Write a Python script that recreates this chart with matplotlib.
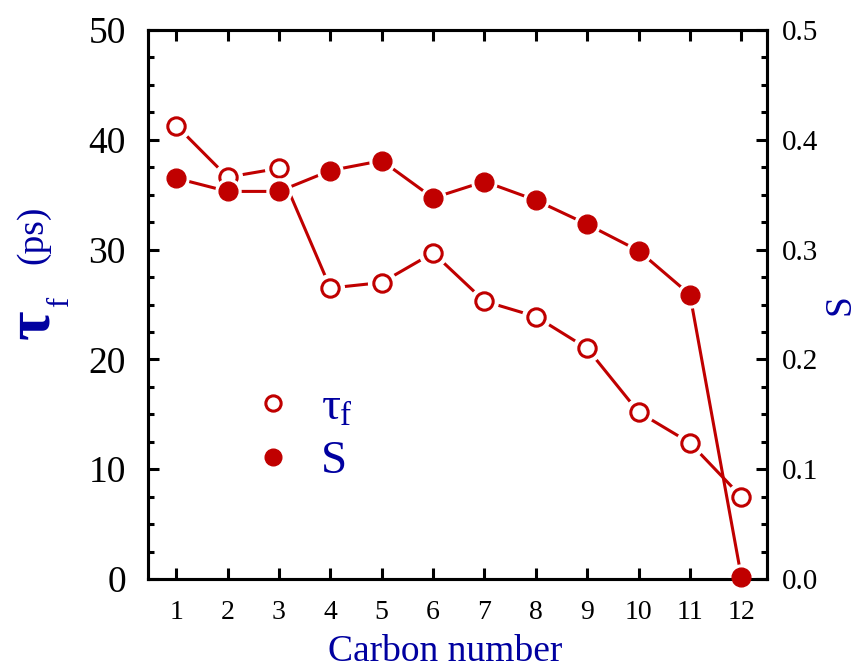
import matplotlib
matplotlib.use('Agg')
import matplotlib.pyplot as plt
from matplotlib.lines import Line2D
from matplotlib.ticker import MultipleLocator

# data
carbon = [1, 2, 3, 4, 5, 6, 7, 8, 9, 10, 11, 12]
tau_f = [41.3, 36.6, 37.4, 26.5, 27.0, 29.7, 25.3, 23.9, 21.0, 15.2, 12.4, 7.5]
order_s = [0.365, 0.353, 0.353, 0.372, 0.381, 0.347, 0.362, 0.345, 0.323, 0.299, 0.259, 0.002]

red = '#c00000'
blue = '#0000a0'

plt.rcParams['font.family'] = ['Liberation Serif', 'DejaVu Serif']
plt.rcParams['mathtext.fontset'] = 'custom'
plt.rcParams['mathtext.rm'] = 'Liberation Serif'
plt.rcParams['mathtext.it'] = 'Liberation Serif'

W, H = 858, 668
fig = plt.figure(figsize=(W / 100, H / 100), dpi=100)
ax = fig.add_axes([148 / W, 1 - 579 / H, (767 - 148) / W, (579 - 30) / H])
ax2 = ax.twinx()

def px(x, y):
    return x / W, 1 - y / H

# tau_f on the left axis: line, white halo to break the line, open markers
ax.plot(carbon, tau_f, color=red, lw=2.2, zorder=2)
ax.plot(carbon, tau_f, ls='none', marker='o', ms=20, mfc='white', mec='white', zorder=2.2)
ax.plot(carbon, tau_f, ls='none', marker='o', ms=12.5, mfc='white', mec=red, mew=2.2, zorder=4,
        clip_on=False)

# S on the right axis
ax2.plot(carbon, order_s, color=red, lw=2.2, zorder=2)
ax2.plot(carbon, order_s, ls='none', marker='o', ms=18, mfc='white', mec='white', zorder=2.2)
ax2.plot(carbon, order_s, ls='none', marker='o', ms=13.5, color=red, zorder=4, clip_on=False)

ax.set_xlim(0.45, 12.5)
ax.set_ylim(0, 50)
ax2.set_ylim(0, 0.5)

ax.set_xticks(carbon)
ax.yaxis.set_major_locator(MultipleLocator(10))
ax.yaxis.set_minor_locator(MultipleLocator(2.5))
ax2.yaxis.set_major_locator(MultipleLocator(0.1))
ax2.yaxis.set_minor_locator(MultipleLocator(0.025))
ax2.set_yticklabels([f'{v:.1f}' for v in ax2.get_yticks()])

for a in (ax, ax2):
    for s in a.spines.values():
        s.set_linewidth(2.2)

ax.tick_params(axis='x', direction='in', top=True, bottom=True, length=8, width=2.2,
               labelsize=20, pad=15)
ax.tick_params(axis='y', which='major', direction='in', left=True, right=False, length=8,
               width=2.2, labelsize=27, pad=16)
ax.tick_params(axis='y', which='minor', direction='in', left=True, right=False, length=4.5,
               width=2.2)
ax2.tick_params(axis='y', which='major', direction='in', right=True, left=False, length=8,
                width=2.2, labelsize=21, pad=11)
ax2.tick_params(axis='y', which='minor', direction='in', right=True, left=False, length=4.5,
                width=2.2)

ax.set_xlabel('Carbon number', fontsize=27, color=blue)
ax.xaxis.set_label_coords(0.48, -0.101)
ax2.set_ylabel('S', fontsize=27, color=blue, rotation=90, labelpad=3)

# left axis title built from pieces: big tau, subscript f, (ps)
fig.text(*px(48, 324), '\u03c4', fontsize=46, fontweight='bold', color=blue, rotation=90,
         rotation_mode='anchor', ha='center', va='baseline')
fig.text(*px(68, 302), 'f', fontsize=22, color=blue, rotation=90,
         rotation_mode='anchor', ha='center', va='baseline')
fig.text(*px(42, 235), '(ps)', fontsize=27, color=blue, rotation=90,
         rotation_mode='anchor', ha='center', va='baseline')

h1 = Line2D([], [], ls='none', marker='o', ms=11, mfc='white', mec=red, mew=2.2)
h2 = Line2D([], [], ls='none', marker='o', ms=12, color=red)
ax.legend([h1, h2], [r'$\tau_{\mathrm{f}}$', 'S'], loc='upper left',
          bbox_to_anchor=(0.165, 0.35), frameon=False, fontsize=34, labelcolor=blue,
          handlelength=0.95, handletextpad=0.55, labelspacing=0.22, borderpad=0,
          borderaxespad=0)

fig.savefig('out.png', dpi=100)
